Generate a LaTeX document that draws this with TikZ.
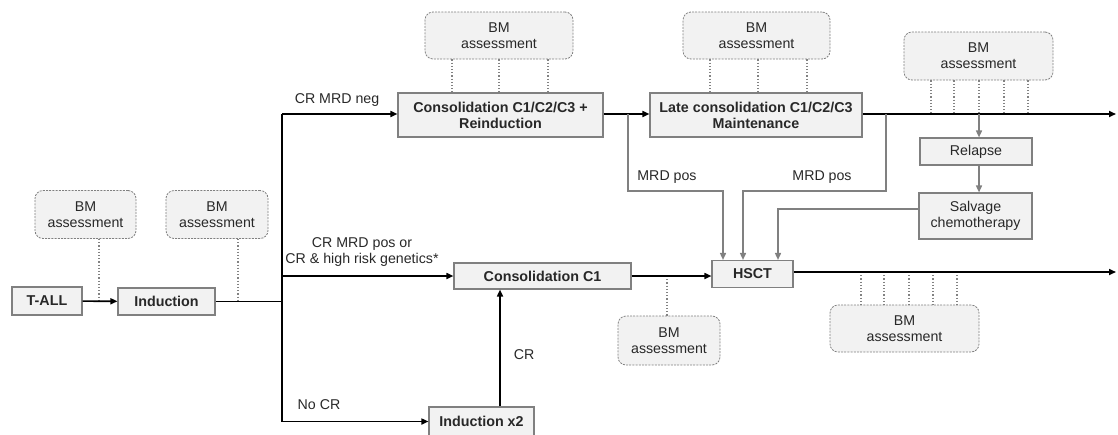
\documentclass[tikz,border=0pt]{standalone}
\usepackage{fontspec}
\setmainfont{Liberation Sans}
\usetikzlibrary{arrows.meta}
\definecolor{boxfill}{RGB}{242,242,242}
\definecolor{boxgray}{RGB}{128,128,128}
\definecolor{dotgray}{RGB}{130,130,130}
\definecolor{txt}{RGB}{40,40,40}
\begin{document}
\begin{tikzpicture}[x=1pt,y=-1pt,
  box/.style={draw=boxgray, fill=boxfill, line width=1.1pt, inner sep=0pt, align=center,
    text=txt, font=\bfseries\fontsize{14.3}{16}\selectfont},
  bm/.style={draw=boxgray, fill=boxfill, line width=0.8pt, dash pattern=on 2pt off 1.2pt,
    rounded corners=8pt, inner sep=0pt, align=center, text=txt,
    font=\fontsize{14.2}{16}\selectfont, minimum height=48pt},
  gbox/.style={draw=boxgray, fill=boxfill, line width=1.1pt, inner sep=0pt, align=center,
    text=txt, font=\fontsize{14.2}{16}\selectfont},
  lbl/.style={inner sep=0pt, align=center, text=txt, font=\fontsize{14.2}{16}\selectfont},
  arr/.style={line width=1.6pt, black, -{Triangle[length=7pt,width=6pt]}},
  ln/.style={line width=1.6pt, black},
  garr/.style={line width=1.5pt, boxgray, -{Triangle[length=7pt,width=6pt]}},
  gln/.style={line width=1.5pt, boxgray},
  dot/.style={line width=1.2pt, dotgray, dotted}
]
\useasboundingbox (0,0) rectangle (1118,434);
\clip (0,0) rectangle (1118,434);

% main boxes
\node[box, minimum width=70pt, minimum height=28pt] (tall) at (47,301) {T-ALL};
\node[box, minimum width=97pt, minimum height=27pt] (ind) at (166.5,301.5) {Induction};
\node[box, minimum width=205pt, minimum height=44pt] (cons) at (500.5,115) {Consolidation C1/C2/C3 +\\Reinduction};
\node[box, minimum width=212pt, minimum height=44pt] (late) at (756,115) {Late consolidation C1/C2/C3\\Maintenance};
\node[box, minimum width=177pt, minimum height=26pt] (c1) at (542.5,276) {Consolidation C1};
\node[box, minimum width=81pt, minimum height=27pt] (hsct) at (752.5,274) {HSCT};
\node[box, minimum width=105pt, minimum height=29pt] (ind2) at (481.5,421.5) {Induction x2};
\node[gbox, minimum width=112pt, minimum height=27pt] (rel) at (976,151.5) {Relapse};
\node[gbox, minimum width=113pt, minimum height=46pt] (salv) at (975.5,216) {Salvage\\chemotherapy};

% BM assessment boxes
\node[bm, minimum width=101pt] (bm1) at (85.5,214.5) {BM\\assessment};
\node[bm, minimum width=102pt] (bm2) at (217,214.5) {BM\\assessment};
\node[bm, minimum width=148pt, minimum height=47pt] (bm3) at (499,35.5) {BM\\assessment};
\node[bm, minimum width=147pt, minimum height=47pt] (bm4) at (756.5,35.5) {BM\\assessment};
\node[bm, minimum width=149pt] (bm5) at (978.5,56) {BM\\assessment};
\node[bm, minimum width=149pt, minimum height=47pt] (bm6) at (904.5,328.5) {BM\\assessment};
\node[bm, minimum width=102pt, minimum height=49pt] (bm7) at (669,340.5) {BM\\assessment};

% labels
\node[lbl] (lneg) at (337,100) {CR MRD neg};
\node[lbl] (lpos) at (362,252) {CR MRD pos or\\CR \& high risk genetics*};
\node[lbl] (lnocr) at (319,405) {No CR};
\node[lbl] (lcr) at (524,355) {CR};
\node[lbl] (lmrd1) at (667,177) {MRD pos};
\node[lbl] (lmrd2) at (822,177) {MRD pos};

% coordinates
\coordinate (tTop) at (282,114);
\coordinate (tBot) at (282,421.5);
\coordinate (tMid) at (282,276);
\coordinate (tInd) at (282,301.5);
\coordinate (endTop) at (1116,114);
\coordinate (endBot) at (1116,272);
\coordinate (crx) at (500,0);
\coordinate (g1a) at (628,114);
\coordinate (g1b) at (628,191);
\coordinate (g1c) at (723,191);
\coordinate (g2a) at (886,114);
\coordinate (g2b) at (886,191);
\coordinate (g2c) at (743,191);
\coordinate (g3b) at (778,209);
\coordinate (rx) at (979,114);

% dotted links (drawn first)
\draw[dot] (bm1.south -| 99,0) -- (99,301.5);
\draw[dot] (bm2.south -| 238,0) -- (238,301.5);
\foreach \x in {452,499,548} \draw[dot] (bm3.south -| \x,0) -- (cons.north -| \x,0);
\foreach \x in {710,758,807} \draw[dot] (bm4.south -| \x,0) -- (late.north -| \x,0);
\foreach \x in {931,954,979,1004,1028} \draw[dot] (bm5.south -| \x,0) -- (\x,114);
\foreach \x in {861,884,909,933,957} \draw[dot] (\x,272) -- (bm6.north -| \x,0);
\draw[dot] (667,276) -- (bm7.north -| 667,0);

% black connectors
\draw[arr] (tall) -- (ind);
\draw[ln] (ind.east) -- (tInd);
\draw[ln] (tTop) -- (tBot);
\draw[arr] (tTop) -- (tTop -| cons.west);
\draw[arr] (tMid) -- (c1.west);
\draw[arr] (tBot) -- (ind2.west);
\draw[arr] (ind2.north -| crx) -- (c1.south -| crx);
\draw[arr] (cons.east |- tTop) -- (late.west |- tTop);
\draw[arr] (late.east |- tTop) -- (endTop);
\draw[arr] (c1.east) -- (c1.east -| hsct.west);
\draw[arr] (hsct.east |- endBot) -- (endBot);

% gray connectors
\draw[garr] (g1a) -- (g1b) -- (g1c) -- (g1c |- hsct.north);
\draw[garr] (g2a) -- (g2b) -- (g2c) -- (g2c |- hsct.north);
\draw[garr] (salv.west |- g3b) -- (g3b) -- (g3b |- hsct.north);
\draw[garr] (rx) -- (rx |- rel.north);
\draw[garr] (rel.south -| rx) -- (salv.north -| rx);
\end{tikzpicture}
\end{document}
